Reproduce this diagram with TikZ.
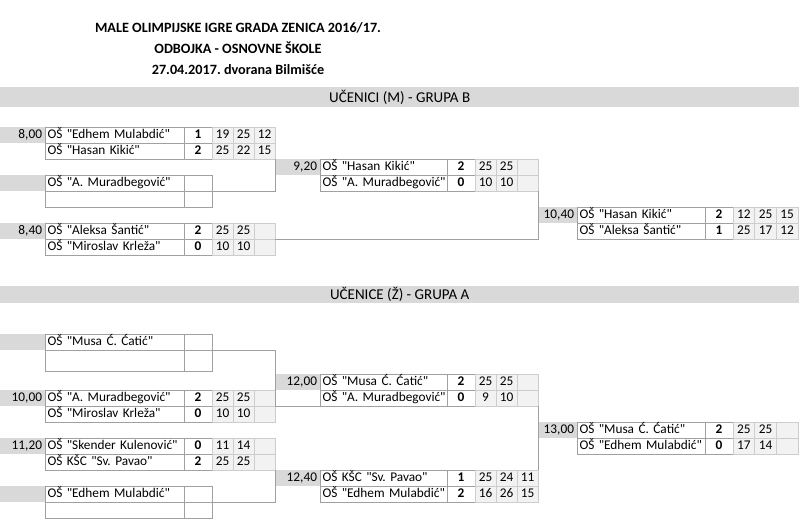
\documentclass[tikz,border=0pt]{standalone}
\usepackage{fontspec}
\setmainfont{Carlito}[Ligatures=TeXOff]
\definecolor{linegray}{RGB}{160,160,160}
\definecolor{scoreline}{RGB}{205,205,205}
\definecolor{scorefill}{RGB}{242,242,242}
\definecolor{timegray}{RGB}{217,217,217}
\newcommand{\cellfont}{\fontsize{13.3}{16}\selectfont\frenchspacing}
\tikzset{
  namecell/.style={draw=linegray,line width=0.8pt,anchor=north west,inner xsep=2.5pt,inner ysep=0pt,outer sep=0pt,
    minimum height=16pt,text height=9.5pt,text depth=3pt,text width=#1,align=left,font=\cellfont},
  setcell/.style={draw=linegray,line width=0.8pt,anchor=north west,inner sep=0pt,outer sep=0pt,
    minimum width=28pt,minimum height=16pt,text height=9.5pt,text depth=3pt,font=\cellfont\bfseries},
  scorecell/.style={draw=scoreline,fill=scorefill,line width=0.8pt,anchor=north west,inner sep=0pt,outer sep=0pt,
    minimum width=#1pt,minimum height=16pt,text height=9.5pt,text depth=3pt,font=\cellfont},
  timecell/.style={fill=timegray,anchor=north west,inner xsep=3pt,inner ysep=0pt,outer sep=0pt,
    minimum height=16pt,text height=9.5pt,text depth=3pt,text width=#1,align=right,font=\cellfont},
  band/.style={fill=timegray,anchor=north west,inner sep=0pt,minimum width=799pt,
    font=\fontsize{15}{16}\selectfont\frenchspacing},
  title/.style={anchor=base,inner sep=0pt,font=\fontsize{14.2}{16}\selectfont\bfseries\frenchspacing},
  bracket/.style={draw=linegray,line width=0.8pt}
}
% one team row: name, x, y, name width, team, sets, scores, score width
\newcommand{\team}[8]{%
  \node[namecell=#4] (#1) at (#2,#3) {\mbox{#5}};
  \node[setcell] (#1s) at (#1.north east) {#6};
  \foreach \v [count=\i] in {#7}
    \node[scorecell=#8] (#1c\i) at ([xshift={(\i-1)*#8pt}]#1s.north east) {\v};
}
\begin{document}
\begin{tikzpicture}[x=1pt,y=-1pt]
  \useasboundingbox (0,0) rectangle (799,520);
  \node[title] (head1) at (238,32) {MALE OLIMPIJSKE IGRE GRADA ZENICA 2016/17.};
  \node[title] (head2) at (238,53) {ODBOJKA - OSNOVNE ŠKOLE};
  \node[title] (head3) at (238,74) {27.04.2017. dvorana Bilmišće};

  % boys
  \node[band,minimum height=20pt] (band1) at (0,87) {UČENICI (M) - GRUPA B};
  \node[timecell=39pt] (t800) at (0,127) {8,00};
  \team{a1}{45}{127}{134pt}{OŠ "Edhem Mulabdić"}{1}{19,25,12}{21}
  \team{a2}{45}{143}{134pt}{OŠ "Hasan Kikić"}{2}{25,22,15}{21}
  \node[timecell=39pt] (tb) at (0,175) {};
  \node[namecell=134pt] (b1) at (45,175) {OŠ "A. Muradbegović"};
  \node[setcell] (b1s) at (b1.north east) {};
  \node[namecell=134pt] (b2) at (b1.south west) {};
  \node[setcell] (b2s) at (b2.north east) {};
  \node[timecell=39pt] (t840) at (0,223) {8,40};
  \team{g1}{45}{223}{134pt}{OŠ "Aleksa Šantić"}{2}{25,25,{}}{21}
  \team{g2}{45}{239}{134pt}{OŠ "Miroslav Krleža"}{0}{10,10,{}}{21}

  \node[timecell=39pt] (t920) at (275,159) {9,20};
  \team{c1}{320}{159}{122pt}{OŠ "Hasan Kikić"}{2}{25,25,{}}{21}
  \team{c2}{320}{175}{122pt}{OŠ "A. Muradbegović"}{0}{10,10,{}}{21}

  \node[timecell=33pt] (t1040) at (538,207) {10,40};
  \team{f1}{577}{207}{123pt}{OŠ "Hasan Kikić"}{2}{12,25,15}{21.67}
  \team{f2}{577}{223}{123pt}{OŠ "Aleksa Šantić"}{1}{25,17,12}{21.67}

  \draw[bracket] (a2c3.south east) |- (b1s.south east);
  \draw[bracket] (c2c3.south east) |- (g1c3.south east);

  % girls
  \node[band,minimum height=17pt] (band2) at (0,286) {UČENICE (Ž) - GRUPA A};
  \node[timecell=39pt] (th) at (0,334) {};
  \node[namecell=134pt] (h1) at (45,334) {OŠ "Musa Ć. Ćatić"};
  \node[setcell] (h1s) at (h1.north east) {};
  \node[namecell=134pt,minimum height=21pt] (h2) at (h1.south west) {};
  \node[setcell,minimum height=21pt] (h2s) at (h2.north east) {};
  \node[timecell=39pt] (t1000) at (0,390) {10,00};
  \team{i1}{45}{390}{134pt}{OŠ "A. Muradbegović"}{2}{25,25,{}}{21}
  \team{i2}{45}{406}{134pt}{OŠ "Miroslav Krleža"}{0}{10,10,{}}{21}
  \node[timecell=39pt] (t1120) at (0,438) {11,20};
  \team{k1}{45}{438}{134pt}{OŠ "Skender Kulenović"}{0}{11,14,{}}{21}
  \team{k2}{45}{454}{134pt}{OŠ KŠC "Sv. Pavao"}{2}{25,25,{}}{21}
  \node[timecell=39pt] (tn) at (0,486) {};
  \node[namecell=134pt] (n1) at (45,486) {OŠ "Edhem Mulabdić"};
  \node[setcell] (n1s) at (n1.north east) {};
  \node[namecell=134pt] (n2) at (n1.south west) {};
  \node[setcell] (n2s) at (n2.north east) {};

  \node[timecell=39pt] (t1200) at (275,374) {12,00};
  \team{j1}{320}{374}{122pt}{OŠ "Musa Ć. Ćatić"}{2}{25,25,{}}{21}
  \team{j2}{320}{390}{122pt}{OŠ "A. Muradbegović"}{0}{9,10,{}}{21}
  \node[timecell=39pt] (t1240) at (275,470) {12,40};
  \team{l1}{320}{470}{122pt}{OŠ KŠC "Sv. Pavao"}{1}{25,24,11}{21}
  \team{l2}{320}{486}{122pt}{OŠ "Edhem Mulabdić"}{2}{16,26,15}{21}

  \node[timecell=33pt] (t1300) at (538,422) {13,00};
  \team{m1}{577}{422}{123pt}{OŠ "Musa Ć. Ćatić"}{2}{25,25,{}}{21.67}
  \team{m2}{577}{438}{123pt}{OŠ "Edhem Mulabdić"}{0}{17,14,{}}{21.67}

  \draw[bracket] (h1s.south east) -| (i1c3.south east) -- (j2.south west);
  \draw[bracket] (j2c3.south east) -- (l1c3.north east);
  \draw[bracket] (k2c3.south east) |- (n1s.south east);
\end{tikzpicture}
\end{document}
